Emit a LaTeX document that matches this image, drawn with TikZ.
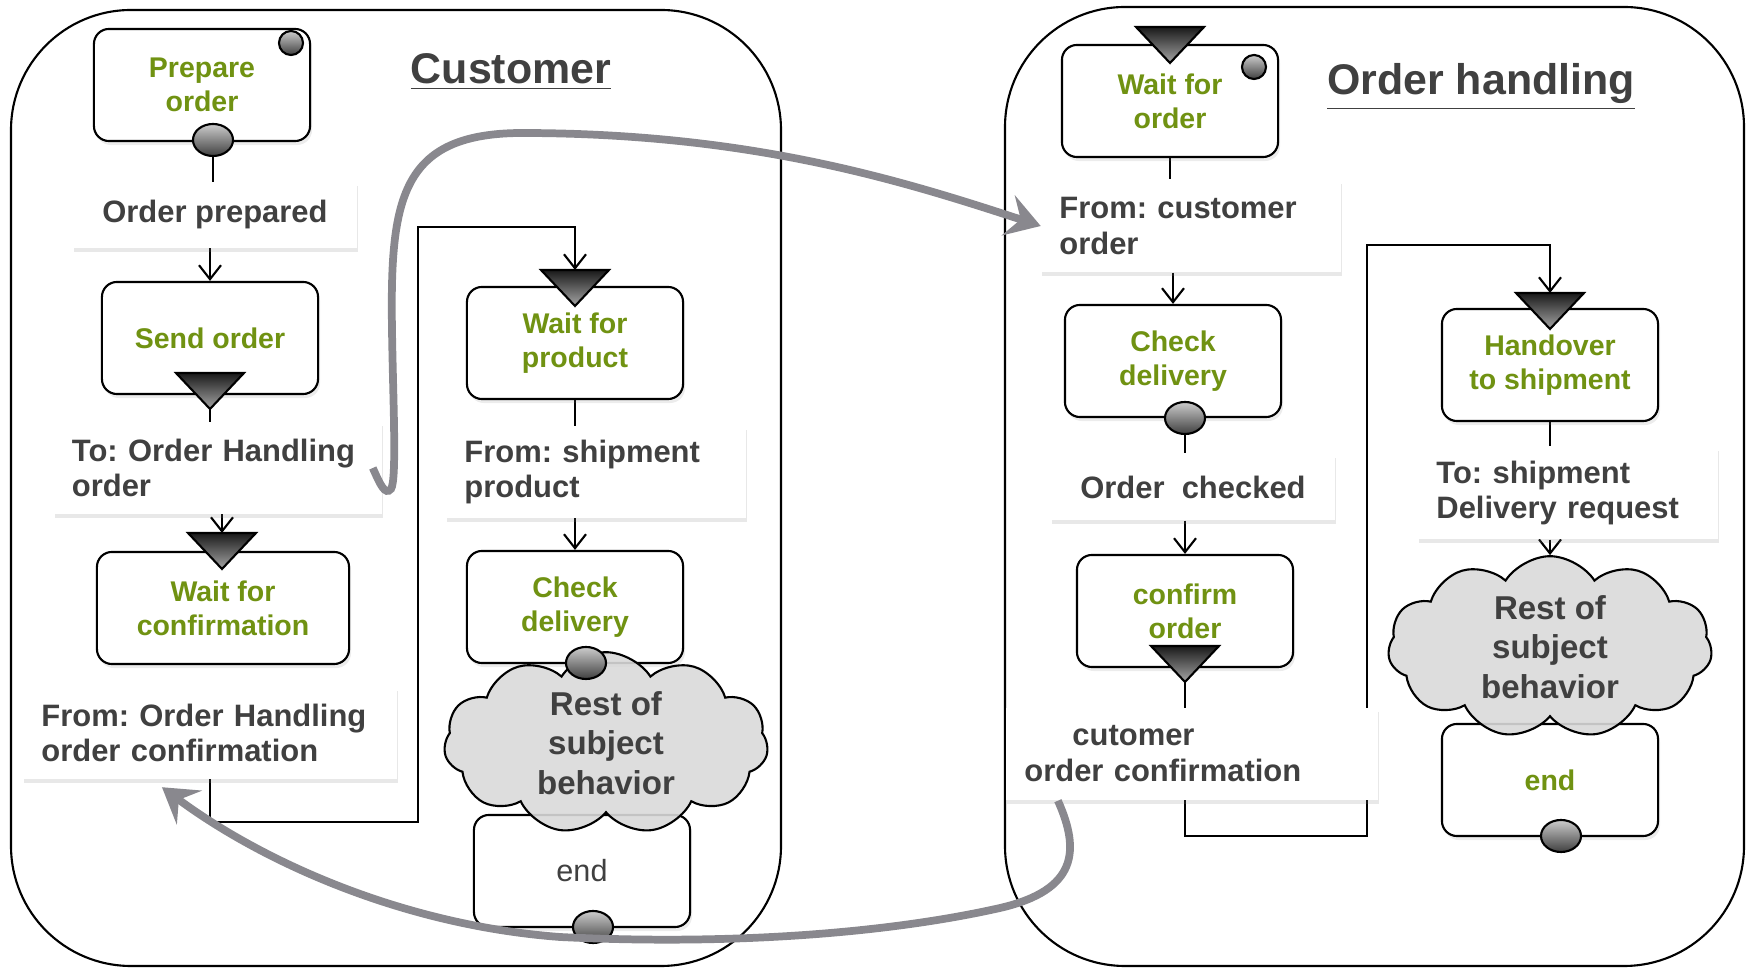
\documentclass[tikz,border=0pt]{standalone}
\usepackage{fontspec}
\setmainfont{Liberation Sans}
\frenchspacing
\usetikzlibrary{positioning}
\usetikzlibrary{arrows.meta}
\usetikzlibrary{shapes.geometric}
\usetikzlibrary{shapes.symbols}
\usetikzlibrary{shadows}
\usetikzlibrary{backgrounds}
\definecolor{stategreen}{RGB}{112,146,18}
\definecolor{txtgray}{RGB}{64,64,64}
\definecolor{flowgray}{RGB}{137,136,142}
\definecolor{cloudgray}{RGB}{217,217,217}

\tikzset{
	statebox/.style={draw, line width=0.6pt, rounded corners=0.15cm, fill=white,
		minimum width=2.16cm, minimum height=1.12cm, align=center, text=stategreen,
		font=\bfseries\fontsize{8.1}{9.6}\selectfont,
		drop shadow={shadow xshift=0.02cm, shadow yshift=-0.04cm, opacity=0.15}},
	msgbox/.style={fill=white, inner xsep=0.18cm, align=left, text=txtgray,
		font=\bfseries\fontsize{8.8}{10.2}\selectfont,
		drop shadow={shadow xshift=0.01cm, shadow yshift=-0.04cm, opacity=0.18}},
	restcloud/.style={cloud, cloud puffs=11, cloud puff arc=115, aspect=1.8, draw, line width=0.6pt,
		fill=cloudgray, fill opacity=0.9, text opacity=1, inner sep=0pt,
		minimum width=3.24cm, minimum height=1.8cm,
		align=center, text=txtgray, font=\bfseries\fontsize{9.4}{11.3}\selectfont},
	endball/.style={ellipse, draw, line width=0.6pt, top color=black!20, bottom color=black!75,
		minimum width=0.4cm, minimum height=0.32cm, inner sep=0pt},
	startball/.style={circle, draw, line width=0.6pt, top color=black!20, bottom color=black!75,
		minimum size=0.24cm, inner sep=0pt},
	lanetitle/.style={text=txtgray, font=\bfseries\fontsize{12.2}{14}\selectfont},
	flowline/.style={line width=0.6pt, -{Straight Barb[length=0.14cm, width=0.22cm]}},
	bigflow/.style={line width=2.2pt, draw=flowgray, -{Stealth[length=0.34cm, width=0.42cm, inset=0.13cm]}},
	msgtri/.pic={
		\shade[draw, line width=0.6pt, top color=black!90, bottom color=black!35]
			(-34,0) -- (34,0) -- (0,36) -- cycle;
		\coordinate (-top) at (0,0);
		\coordinate (-tip) at (0,36);
	}
}

\begin{document}
\begin{tikzpicture}[x=0.01cm, y=-0.01cm]
	\useasboundingbox (0,0) rectangle (1748,968);

	\node [lanetitle] (custtitle) at (511,72) {\underline{Customer}};
	\node [lanetitle] (ordtitle) at (1481,87) {\underline{Order handling}};

	\node [statebox] (prep) at (202,85) {Prepare\\order};
	\node [msgbox, minimum width=2.84cm, minimum height=0.65cm] (prepd) at (215,215) {Order prepared};
	\node [statebox] (send) at (210,338) {Send order};
	\node [msgbox, text width=2.92cm, minimum height=0.91cm] (tolbl) at (218,468) {To: Order Handling\\order};
	\node [statebox, minimum width=2.52cm] (waitconf) at (223,608) {Wait for\\confirmation};
	\node [msgbox, text width=3.37cm, minimum height=0.91cm] (fromlbl) at (210,733) {From: Order Handling\\order confirmation};
	\node [statebox] (waitprod) at (575,343) {Wait for\\product};
	\node [msgbox, text width=2.63cm, minimum height=0.91cm] (fromship) at (596,472) {From: shipment\\product};
	\node [statebox] (checkL) at (575,607) {Check\\delivery};
	\node [statebox, text=txtgray, font=\fontsize{8.7}{10}\selectfont] (endL) at (582,871) {end};
	\node [restcloud] (restL) at (606,743) {Rest of\\subject\\behavior};

	\node [statebox] (waitord) at (1170,101) {Wait for\\order};
	\node [msgbox, text width=2.63cm, minimum height=0.92cm] (fromcust) at (1191,226) {From: customer\\order};
	\node [statebox] (checkR) at (1173,361) {Check\\delivery};
	\node [msgbox, minimum width=2.84cm, minimum height=0.66cm] (checked) at (1193,487) {Order\ \ checked};
	\node [statebox] (confirm) at (1185,611) {confirm\\order};
	\node [msgbox, text width=3.35cm, minimum height=0.92cm] (cutlbl) at (1192,754) {\hspace*{0.48cm}cutomer\\order confirmation};
	\node [statebox] (handover) at (1550,365) {Handover\\to shipment};
	\node [msgbox, text width=2.63cm, minimum height=0.92cm] (toship) at (1568,493) {To: shipment\\Delivery request};
	\node [statebox] (endR) at (1550,780) {end};
	\node [restcloud] (restR) at (1550,647) {Rest of\\subject\\behavior};

	\node [startball] (prepstart) at (291,43) {};
	\node [endball] (prepball) at (213,140) {};
	\node [endball] (checkLball) at (586,663) {};
	\node [endball] (endLball) at (593,927) {};
	\node [startball] (waitstart) at (1254,67) {};
	\node [endball] (checkRball) at (1185,418) {};
	\node [endball] (endRball) at (1561,836) {};

	\pic (sendtri) at (210,373) {msgtri};
	\pic (conftri) at (222,533) {msgtri};
	\pic (prodtri) at (575,270) {msgtri};
	\pic (ordtri) at (1170,27) {msgtri};
	\pic (confirmtri) at (1185,646) {msgtri};
	\pic (handtri) at (1550,293) {msgtri};

	\coordinate (loopL) at (418,227);
	\coordinate (loopR) at (1367,245);

	\begin{pgfonlayer}{background}
		\draw [line width=0.6pt, rounded corners=1.2cm] (11,10) rectangle (781,966);
		\draw [line width=0.6pt, rounded corners=1.2cm] (1005,7) rectangle (1744,966);

		\draw [line width=0.6pt] (prepball) -- (prepball |- prepd.north);
		\draw [flowline] (prepd.south -| send) -- (send.north);
		\draw [line width=0.6pt] (sendtri-tip) -- (sendtri-tip |- tolbl.north);
		\draw [flowline] (conftri-top |- tolbl.south) -- (conftri-top);
		\draw [flowline] (fromlbl.south) -- ++(0,43) -| (loopL) -| (prodtri-top);
		\draw [line width=0.6pt] (waitprod.south) -- (fromship.north -| waitprod);
		\draw [flowline] (fromship.south -| checkL) -- (checkL.north);

		\draw [line width=0.6pt] (waitord.south) -- (fromcust.north -| waitord);
		\draw [flowline] (fromcust.south -| checkR) -- (checkR.north);
		\draw [line width=0.6pt] (checkRball) -- (checkRball |- checked.north);
		\draw [flowline] (checked.south -| confirm) -- (confirm.north);
		\draw [flowline] (confirmtri-tip) -- (confirmtri-tip |- 0,836) -| (loopR) -| (handtri-top);
		\draw [line width=0.6pt] (handover.south) -- (toship.north -| handover);
		\draw [flowline] (toship.south -| restR) -- (restR.north);
	\end{pgfonlayer}

	\draw [bigflow] ([xshift=-0.1cm]tolbl.east) .. controls (380,484) and (385,496) .. (391,489)
		.. controls (397,480) and (393,400) .. (392,330)
		.. controls (390,200) and (400,134) .. (520,133)
		.. controls (750,133) and (900,180) .. (fromcust.west);
	\draw [bigflow] ([xshift=-1.34cm]cutlbl.south) .. controls (1080,850) and (1078,890) .. (1000,908)
		.. controls (880,935) and (720,945) .. (560,937)
		.. controls (400,925) and (260,860) .. ([xshift=-0.48cm,yshift=-0.08cm]fromlbl.south);
\end{tikzpicture}
\end{document}
